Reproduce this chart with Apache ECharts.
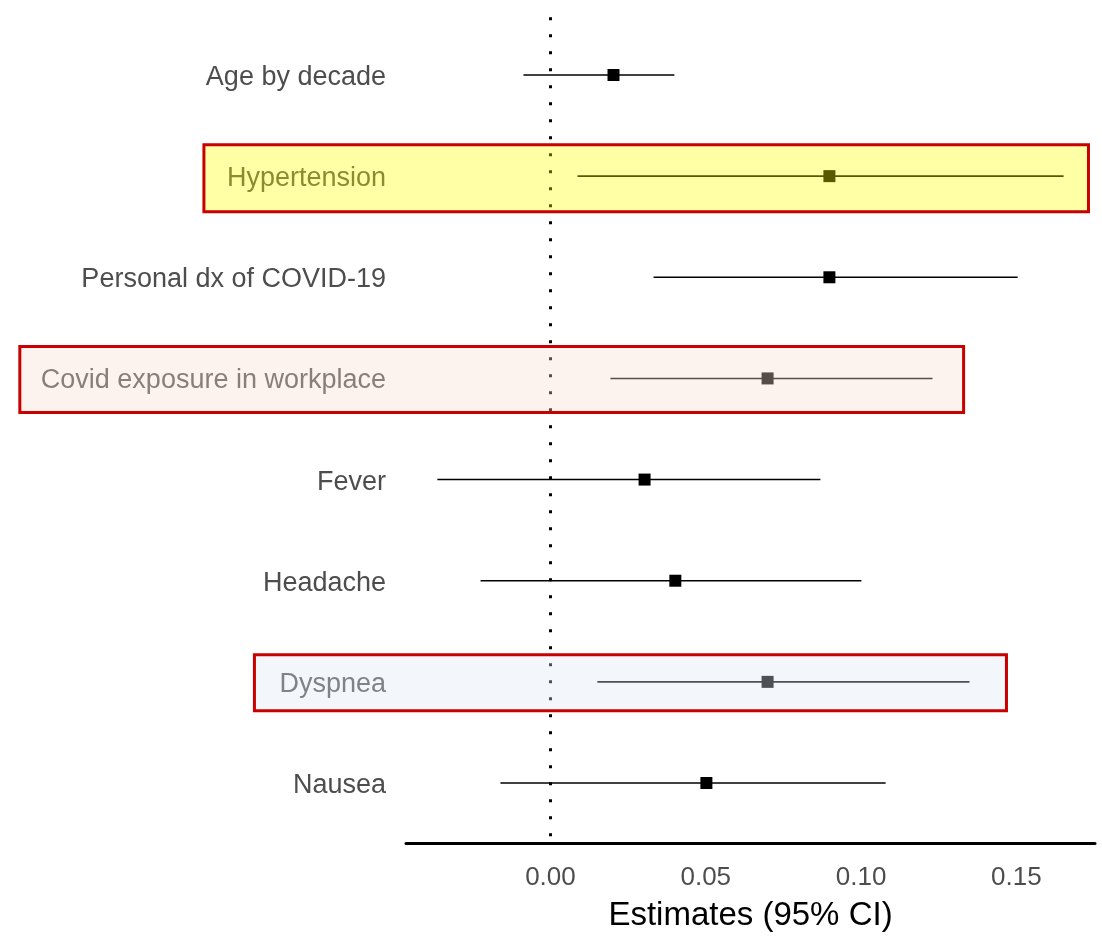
<!DOCTYPE html>
<html>
<head>
<meta charset="utf-8">
<script src="https://cdn.jsdelivr.net/npm/echarts@6/dist/echarts.min.js"></script>
<style>
  html, body { margin: 0; padding: 0; background: #fff; }
  #chart { width: 1102px; height: 940px; }
</style>
</head>
<body>
<div id="chart"></div>
<script>
// Forest plot of model estimates with 95% confidence intervals
const terms = [
  'Age by decade',
  'Hypertension',
  'Personal dx of COVID-19',
  'Covid exposure in workplace',
  'Fever',
  'Headache',
  'Dyspnea',
  'Nausea'
];
const estimates = [0.0203, 0.0898, 0.0898, 0.0699, 0.0303, 0.0402, 0.0699, 0.0502];
const ciLow     = [-0.0087, 0.0087, 0.0332, 0.0193, -0.0364, -0.0225, 0.0151, -0.0161];
const ciHigh    = [0.0399, 0.1652, 0.1504, 0.1230, 0.0869, 0.1001, 0.1349, 0.1079];
const xTicks    = [0, 0.05, 0.10, 0.15];

// Highlighted rows: term, right edge (in estimate units), box look
const highlights = [
  { term: 'Hypertension',                xEnd: 0.1732, pad: 23, h: 67, dy: 2,  fill: 'rgba(255,255,0,0.35)' },
  { term: 'Covid exposure in workplace', xEnd: 0.1330, pad: 21, h: 66, dy: 1,  fill: 'rgba(249,221,207,0.35)' },
  { term: 'Dyspnea',                     xEnd: 0.1468, pad: 25, h: 56, dy: 1,  fill: 'rgba(221,229,243,0.35)' }
];

const FONT = '"Liberation Sans", Arial, Helvetica, sans-serif';
const LABEL_SIZE = 27;
const LABEL_MARGIN = 20;
const X_MIN = -0.0465, X_MAX = 0.1753;

const measureCtx = document.createElement('canvas').getContext('2d');
measureCtx.font = LABEL_SIZE + 'px ' + FONT;
function textWidth(s) { return measureCtx.measureText(s).width; }

const rowOf = t => terms.indexOf(t) + 1;

const chart = echarts.init(document.getElementById('chart'), null, { renderer: 'canvas' });

chart.setOption({
  animation: false,
  backgroundColor: '#ffffff',
  grid: { left: 406, right: 7, top: 14.3, bottom: 96.3, containLabel: false },
  xAxis: {
    type: 'value',
    min: X_MIN,
    max: X_MAX,
    name: 'Estimates (95% CI)',
    nameLocation: 'middle',
    nameGap: 56,
    nameTextStyle: { color: '#000', fontSize: 33, fontFamily: FONT },
    axisLine: { show: true, onZero: false, lineStyle: { color: '#000', width: 3 } },
    axisTick: { show: false },
    splitLine: { show: false },
    axisLabel: {
      customValues: xTicks,
      formatter: v => v.toFixed(2),
      color: '#4d4d4d',
      fontSize: 26,
      fontFamily: FONT,
      margin: 21
    }
  },
  yAxis: {
    type: 'value',
    min: 0.4,
    max: 8.6,
    inverse: true,
    axisLine: { show: false },
    axisTick: { show: false },
    splitLine: { show: false },
    axisLabel: {
      customValues: terms.map((_, i) => i + 1),
      formatter: v => '{t|' + (terms[Math.round(v) - 1] || '') + '}',
      margin: LABEL_MARGIN,
      rich: {
        t: {
          color: '#4d4d4d',
          fontSize: LABEL_SIZE,
          fontFamily: FONT,
          padding: [5, 0, 0, 0]
        }
      }
    }
  },
  series: [
    {
      // confidence interval whiskers
      type: 'custom',
      z: 3,
      data: terms.map((t, i) => [ciLow[i], ciHigh[i], i + 1]),
      renderItem: (params, api) => {
        const a = api.coord([api.value(0), api.value(2)]);
        const b = api.coord([api.value(1), api.value(2)]);
        return {
          type: 'line',
          shape: { x1: a[0], y1: a[1], x2: b[0], y2: b[1] },
          style: { stroke: '#000', lineWidth: 1.6 }
        };
      }
    },
    {
      // point estimates
      type: 'scatter',
      z: 4,
      symbol: 'rect',
      symbolSize: 12,
      itemStyle: { color: '#000', opacity: 1 },
      data: terms.map((t, i) => [estimates[i], i + 1]),
      markLine: {
        silent: true,
        symbol: 'none',
        label: { show: false },
        lineStyle: { color: '#000', width: 3, type: [3, 14], cap: 'butt', dashOffset: 14 },
        data: [{ xAxis: 0 }]
      }
    },
    {
      // highlight boxes laid over selected rows
      type: 'custom',
      z: 10,
      clip: false,
      data: highlights.map((h, i) => [h.xEnd, rowOf(h.term), i]),
      renderItem: (params, api) => {
        const h = highlights[api.value(2)];
        const right = api.coord([api.value(0), api.value(1)]);
        const gridLeft = api.coord([X_MIN, api.value(1)])[0];
        const left = gridLeft - LABEL_MARGIN - textWidth(h.term) - h.pad;
        const cy = right[1] + h.dy;
        return {
          type: 'rect',
          shape: { x: left, y: cy - h.h / 2, width: right[0] - left, height: h.h },
          style: { fill: h.fill, stroke: '#c80000', lineWidth: 3 }
        };
      }
    }
  ]
});
</script>
</body>
</html>
